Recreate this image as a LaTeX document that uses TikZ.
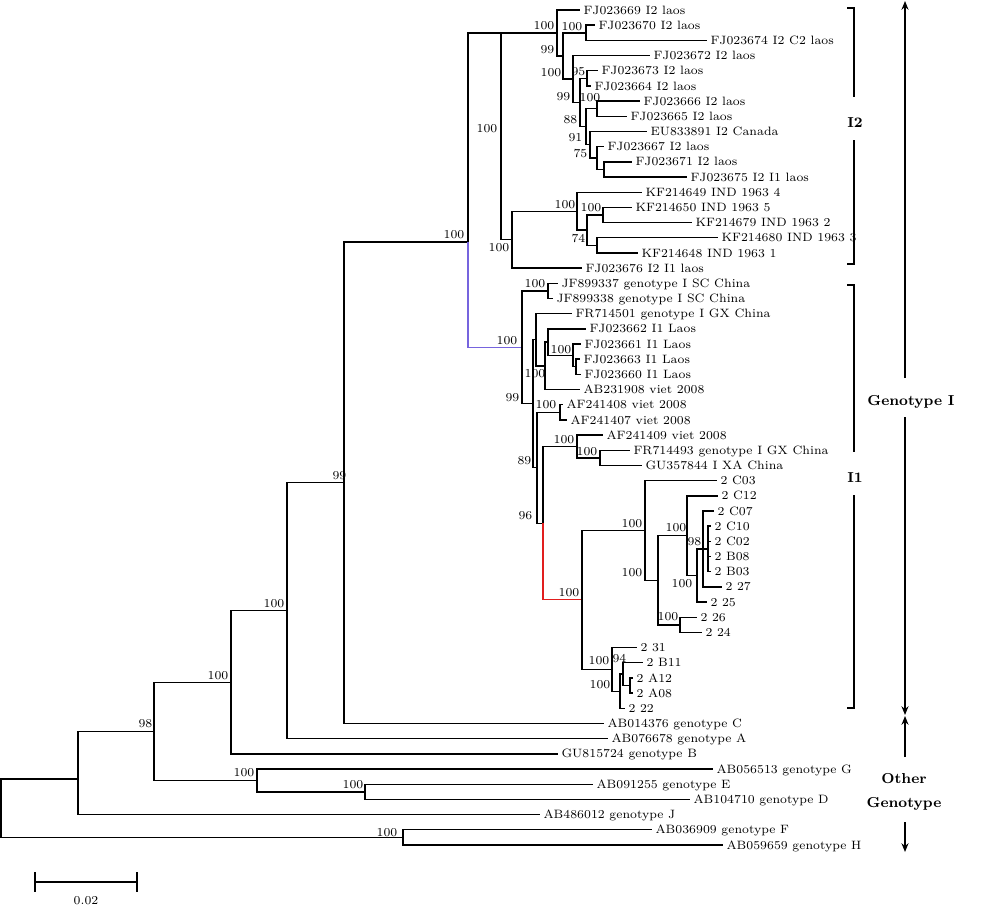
\documentclass[tikz,border=0pt]{standalone}
\usepackage{tikz}
\usetikzlibrary{arrows.meta}
\usetikzlibrary{positioning}
\definecolor{linkviolet}{RGB}{118,100,222}
\definecolor{linkred}{RGB}{225,30,30}

\begin{document}
\begin{tikzpicture}[x=0.02cm, y=-0.02cm, line width=0.8pt,
  leaf/.style={anchor=west, inner xsep=1.6pt, inner ysep=0pt, text height=4.7pt, text depth=0pt, font=\fontsize{6.9}{8}\selectfont},
  boot/.style={anchor=east, inner sep=0pt, text height=4.7pt, text depth=0pt, font=\fontsize{6.9}{8}\selectfont},
  clade/.style={inner sep=1pt, font=\fontsize{8.2}{9}\selectfont\bfseries},
  marker/.style={line width=0.7pt, -{Stealth[length=5pt,width=4pt]}}]
\useasboundingbox (0,0) rectangle (1000,913);

% leaves
\node[leaf] (FJ023669) at (580,10) {FJ023669 I2 laos};
\node[leaf] (FJ023670) at (595,25.2) {FJ023670 I2 laos};
\node[leaf] (FJ023674) at (707,40.4) {FJ023674 I2 C2 laos};
\node[leaf] (FJ023672) at (650,55.5) {FJ023672 I2 laos};
\node[leaf] (FJ023673) at (598,70.7) {FJ023673 I2 laos};
\node[leaf] (FJ023664) at (591,85.9) {FJ023664 I2 laos};
\node[leaf] (FJ023666) at (640,101.1) {FJ023666 I2 laos};
\node[leaf] (FJ023665) at (627,116.3) {FJ023665 I2 laos};
\node[leaf] (EU833891) at (647,131.4) {EU833891 I2 Canada};
\node[leaf] (FJ023667) at (604,146.6) {FJ023667 I2 laos};
\node[leaf] (FJ023671) at (632,161.8) {FJ023671 I2 laos};
\node[leaf] (FJ023675) at (687,177.0) {FJ023675 I2 I1 laos};
\node[leaf] (KF214649) at (642,192.2) {KF214649 IND 1963 4};
\node[leaf] (KF214650) at (632,207.3) {KF214650 IND 1963 5};
\node[leaf] (KF214679) at (692,222.5) {KF214679 IND 1963 2};
\node[leaf] (KF214680) at (718,237.7) {KF214680 IND 1963 3};
\node[leaf] (KF214648) at (638,252.9) {KF214648 IND 1963 1};
\node[leaf] (FJ023676) at (582,268.1) {FJ023676 I2 I1 laos};
\node[leaf] (JF899337) at (558,283.2) {JF899337 genotype I SC China};
\node[leaf] (JF899338) at (553,298.4) {JF899338 genotype I SC China};
\node[leaf] (FR714501) at (572,313.6) {FR714501 genotype I GX China};
\node[leaf] (FJ023662) at (586,328.8) {FJ023662 I1 Laos};
\node[leaf] (FJ023661) at (581,344.0) {FJ023661 I1 Laos};
\node[leaf] (FJ023663) at (580,359.1) {FJ023663 I1 Laos};
\node[leaf] (FJ023660) at (581,374.3) {FJ023660 I1 Laos};
\node[leaf] (AB231908) at (580,389.5) {AB231908 viet 2008};
\node[leaf] (AF241408) at (563,404.7) {AF241408 viet 2008};
\node[leaf] (AF241407) at (567,419.9) {AF241407 viet 2008};
\node[leaf] (AF241409) at (603,435.0) {AF241409 viet 2008};
\node[leaf] (FR714493) at (630,450.2) {FR714493 genotype I GX China};
\node[leaf] (GU357844) at (642,465.4) {GU357844 I XA China};
\node[leaf] (S2C03) at (717,480.6) {2 C03};
\node[leaf] (S2C12) at (718,495.8) {2 C12};
\node[leaf] (S2C07) at (714,510.9) {2 C07};
\node[leaf] (S2C10) at (711,526.1) {2 C10};
\node[leaf] (S2C02) at (711,541.3) {2 C02};
\node[leaf] (S2B08) at (711,556.5) {2 B08};
\node[leaf] (S2B03) at (711,571.7) {2 B03};
\node[leaf] (S227) at (722,586.8) {2 27};
\node[leaf] (S225) at (707,602.0) {2 25};
\node[leaf] (S226) at (697,617.2) {2 26};
\node[leaf] (S224) at (702,632.4) {2 24};
\node[leaf] (S231) at (637,647.6) {2 31};
\node[leaf] (S2B11) at (643,662.7) {2 B11};
\node[leaf] (S2A12) at (633,677.9) {2 A12};
\node[leaf] (S2A08) at (633,693.1) {2 A08};
\node[leaf] (S222) at (625,708.3) {2 22};
\node[leaf] (AB014376) at (604,723.5) {AB014376 genotype C};
\node[leaf] (AB076678) at (608,738.6) {AB076678 genotype A};
\node[leaf] (GU815724) at (558,753.8) {GU815724 genotype B};
\node[leaf] (AB056513) at (713,769.0) {AB056513 genotype G};
\node[leaf] (AB091255) at (593,784.2) {AB091255 genotype E};
\node[leaf] (AB104710) at (690,799.4) {AB104710 genotype D};
\node[leaf] (AB486012) at (540,814.5) {AB486012 genotype J};
\node[leaf] (AB036909) at (652,829.7) {AB036909 genotype F};
\node[leaf] (AB059659) at (723,844.9) {AB059659 genotype H};

% inner nodes
\coordinate (Root) at (1,808);
\coordinate (NoFH) at (78,779);
\coordinate (PairFH) at (403,837.3);
\coordinate (Grp98) at (154,731.3);
\coordinate (WithG) at (257,780.4);
\coordinate (PairED) at (365,791.8);
\coordinate (WithB) at (231,682.2);
\coordinate (WithA) at (287,610.6);
\coordinate (WithC) at (344,482.6);
\coordinate (GenoI) at (468,241.8);
\coordinate (I2Clade) at (501,33);
\coordinate (LaosA) at (557,33);
\coordinate (LaosB) at (586,32.8);
\coordinate (LaosC) at (563,55.9);
\coordinate (LaosD) at (573,79);
\coordinate (LaosE) at (587,78.3);
\coordinate (LaosF) at (580,102.5);
\coordinate (LaosG) at (597,108.7);
\coordinate (LaosH) at (586,126.7);
\coordinate (LaosI) at (590,144.7);
\coordinate (LaosJ) at (597,158);
\coordinate (LaosK) at (604,169.4);
\coordinate (I2Inner) at (512,239.6);
\coordinate (IndClade) at (577,211.2);
\coordinate (IndM) at (587,230.1);
\coordinate (IndP) at (603,214.9);
\coordinate (IndQ) at (597,245.3);
\coordinate (I1Clade) at (522,347.3);
\coordinate (ScChina) at (548,290.8);
\coordinate (I1S) at (533,403.7);
\coordinate (I1R) at (536,339.7);
\coordinate (I1Q) at (545,365.8);
\coordinate (I1P) at (548,342.1);
\coordinate (LaosTrio) at (573,355.4);
\coordinate (LaosPair) at (576,366.7);
\coordinate (VietT) at (537,467.7);
\coordinate (VietPair) at (560,412.3);
\coordinate (VietU) at (543,523.2);
\coordinate (VietV) at (577,446.4);
\coordinate (ChinaPair) at (600,457.8);
\coordinate (Sample) at (582,599.9);
\coordinate (SampleX) at (645,530.4);
\coordinate (SampleX2) at (658,580.2);
\coordinate (SampleX3) at (687,535.6);
\coordinate (SampleX4) at (680,624.8);
\coordinate (SampleX5) at (697,575.4);
\coordinate (SampleX6) at (703,548.9);
\coordinate (SampleX7) at (708,548.9);
\coordinate (SampleY) at (612,669.4);
\coordinate (SampleY2) at (620,691.2);
\coordinate (SampleY3) at (623,674.1);
\coordinate (SampleY4) at (630,685.5);

% branches
\draw (Root) |- (NoFH) (Root) |- (PairFH);
\draw (NoFH) |- (Grp98) (NoFH) |- (AB486012.west);
\draw (PairFH) |- (AB036909.west) (PairFH) |- (AB059659.west);
\draw (Grp98) |- (WithB) (Grp98) |- (WithG);
\draw (WithG) |- (AB056513.west) (WithG) |- (PairED);
\draw (PairED) |- (AB091255.west) (PairED) |- (AB104710.west);
\draw (WithB) |- (WithA) (WithB) |- (GU815724.west);
\draw (WithA) |- (WithC) (WithA) |- (AB076678.west);
\draw (WithC) |- (GenoI) (WithC) |- (AB014376.west);
\draw (GenoI) |- (I2Clade);
\draw[linkviolet, line width=0.6pt] (GenoI) |- (I1Clade);
\draw (I2Clade) |- (LaosA) (I2Clade) |- (I2Inner);
\draw (LaosA) |- (FJ023669.west) (LaosA) |- (LaosC);
\draw (LaosC) |- (LaosB) (LaosC) |- (LaosD);
\draw (LaosB) |- (FJ023670.west) (LaosB) |- (FJ023674.west);
\draw (LaosD) |- (FJ023672.west) (LaosD) |- (LaosF);
\draw (LaosF) |- (LaosE) (LaosF) |- (LaosH);
\draw (LaosE) |- (FJ023673.west) (LaosE) |- (FJ023664.west);
\draw (LaosH) |- (LaosG) (LaosH) |- (LaosI);
\draw (LaosG) |- (FJ023666.west) (LaosG) |- (FJ023665.west);
\draw (LaosI) |- (EU833891.west) (LaosI) |- (LaosJ);
\draw (LaosJ) |- (FJ023667.west) (LaosJ) |- (LaosK);
\draw (LaosK) |- (FJ023671.west) (LaosK) |- (FJ023675.west);
\draw (I2Inner) |- (IndClade) (I2Inner) |- (FJ023676.west);
\draw (IndClade) |- (KF214649.west) (IndClade) |- (IndM);
\draw (IndM) |- (IndP) (IndM) |- (IndQ);
\draw (IndP) |- (KF214650.west) (IndP) |- (KF214679.west);
\draw (IndQ) |- (KF214680.west) (IndQ) |- (KF214648.west);
\draw (I1Clade) |- (ScChina) (I1Clade) |- (I1S);
\draw (ScChina) |- (JF899337.west) (ScChina) |- (JF899338.west);
\draw (I1S) |- (I1R) (I1S) |- (VietT);
\draw (I1R) |- (FR714501.west) (I1R) |- (I1Q);
\draw (I1Q) |- (I1P) (I1Q) |- (AB231908.west);
\draw (I1P) |- (FJ023662.west) (I1P) |- (LaosTrio);
\draw (LaosTrio) |- (FJ023661.west) (LaosTrio) |- (LaosPair);
\draw (LaosPair) |- (FJ023663.west) (LaosPair) |- (FJ023660.west);
\draw (VietT) |- (VietPair) (VietT) |- (VietU);
\draw (VietPair) |- (AF241408.west) (VietPair) |- (AF241407.west);
\draw (VietU) |- (VietV);
\draw[linkred, line width=0.6pt] (VietU) |- (Sample);
\draw (VietV) |- (AF241409.west) (VietV) |- (ChinaPair);
\draw (ChinaPair) |- (FR714493.west) (ChinaPair) |- (GU357844.west);
\draw (Sample) |- (SampleX) (Sample) |- (SampleY);
\draw (SampleX) |- (S2C03.west) (SampleX) |- (SampleX2);
\draw (SampleX2) |- (SampleX3) (SampleX2) |- (SampleX4);
\draw (SampleX3) |- (S2C12.west) (SampleX3) |- (SampleX5);
\draw (SampleX5) |- (SampleX6) (SampleX5) |- (S225.west);
\draw (SampleX6) |- (S2C07.west) (SampleX6) |- (SampleX7) (SampleX6) |- (S227.west);
\draw (SampleX7) |- (S2C10.west) (SampleX7) |- (S2C02.west) (SampleX7) |- (S2B08.west) (SampleX7) |- (S2B03.west);
\draw (SampleX4) |- (S226.west) (SampleX4) |- (S224.west);
\draw (SampleY) |- (S231.west) (SampleY) |- (SampleY2);
\draw (SampleY2) |- (SampleY3) (SampleY2) |- (S222.west);
\draw (SampleY3) |- (S2B11.west) (SampleY3) |- (SampleY4);
\draw (SampleY4) |- (S2A12.west) (SampleY4) |- (S2A08.west);

% bootstrap values
\node[boot] (bWithC) at (347,475) {99};
\node[boot] (bWithA) at (285,603) {100};
\node[boot] (bWithB) at (229,675) {100};
\node[boot] (bGrp98) at (153,723) {98};
\node[boot] (bWithG) at (255,772) {100};
\node[boot] (bPairED) at (364,784) {100};
\node[boot] (bPairFH) at (398,832) {100};
\node[boot] (bGenoI) at (465,234) {100};
\node[boot] (bI2Clade) at (498,128) {100};
\node[boot] (bLaosA) at (555,25) {100};
\node[boot] (bLaosB) at (583,26.5) {100};
\node[boot] (bLaosC) at (555,49) {99};
\node[boot] (bLaosD) at (562,72) {100};
\node[boot] (bLaosE) at (586,71) {95};
\node[boot] (bLaosF) at (571,96) {99};
\node[boot] (bLaosG) at (601,97) {100};
\node[boot] (bLaosH) at (578,119) {88};
\node[boot] (bLaosI) at (583,137) {91};
\node[boot] (bLaosJ) at (588,153) {75};
\node[boot] (bIndClade) at (576,204.5) {100};
\node[boot] (bIndP) at (602,207) {100};
\node[boot] (bIndM) at (586,238) {74};
\node[boot] (bI2Inner) at (510,247) {100};
\node[boot] (bI1Clade) at (518,340) {100};
\node[boot] (bScChina) at (546,283) {100};
\node[boot] (bI1Q) at (546,373) {100};
\node[boot] (bLaosTrio) at (572,349) {100};
\node[boot] (bI1S) at (520,397.5) {99};
\node[boot] (bVietPair) at (557,404) {100};
\node[boot] (bVietT) at (532,460) {89};
\node[boot] (bVietV) at (575,439) {100};
\node[boot] (bChinaPair) at (598,451) {100};
\node[boot] (bVietU) at (533,515) {96};
\node[boot] (bSample) at (580,592) {100};
\node[boot] (bSampleX) at (643,523) {100};
\node[boot] (bSampleX2) at (643,572) {100};
\node[boot] (bSampleX3) at (687,527) {100};
\node[boot] (bSampleX5) at (693,583) {100};
\node[boot] (bSampleX6) at (702,541) {98};
\node[boot] (bSampleX4) at (679,616) {100};
\node[boot] (bSampleY) at (610,660) {100};
\node[boot] (bSampleY3) at (627,658) {94};
\node[boot] (bSampleY2) at (611,684) {100};

% clade marks
\node[clade] (I2Mark) at (855,123) {I2};
\node[clade] (I1Mark) at (855,478) {I1};
\draw[line width=0.7pt] (847,8) -- (854,8) -- (854,97) (854,140) -- (854,264) -- (847,264);
\draw[line width=0.7pt] (847,285) -- (854,285) -- (854,452) (854,495) -- (854,708) -- (847,708);
\node[clade] (GenoIMark) at (911,402) {Genotype I};
\draw[marker] (905,378) -- (905,1);
\draw[marker] (905,417) -- (905,715);
\node[clade, align=center, font=\fontsize{8.2}{13.6}\selectfont\bfseries] (OtherMark) at (904,792) {Other\\Genotype};
\draw[marker] (905,757) -- (905,716);
\draw[marker] (905,822) -- (905,852);

% scale bar
\draw[line width=0.7pt] (35,872) -- (35,892) (35,882) -- (137,882) (137,872) -- (137,892);
\node[boot, anchor=center] (ScaleLabel) at (86,900) {0.02};
\end{tikzpicture}
\end{document}
